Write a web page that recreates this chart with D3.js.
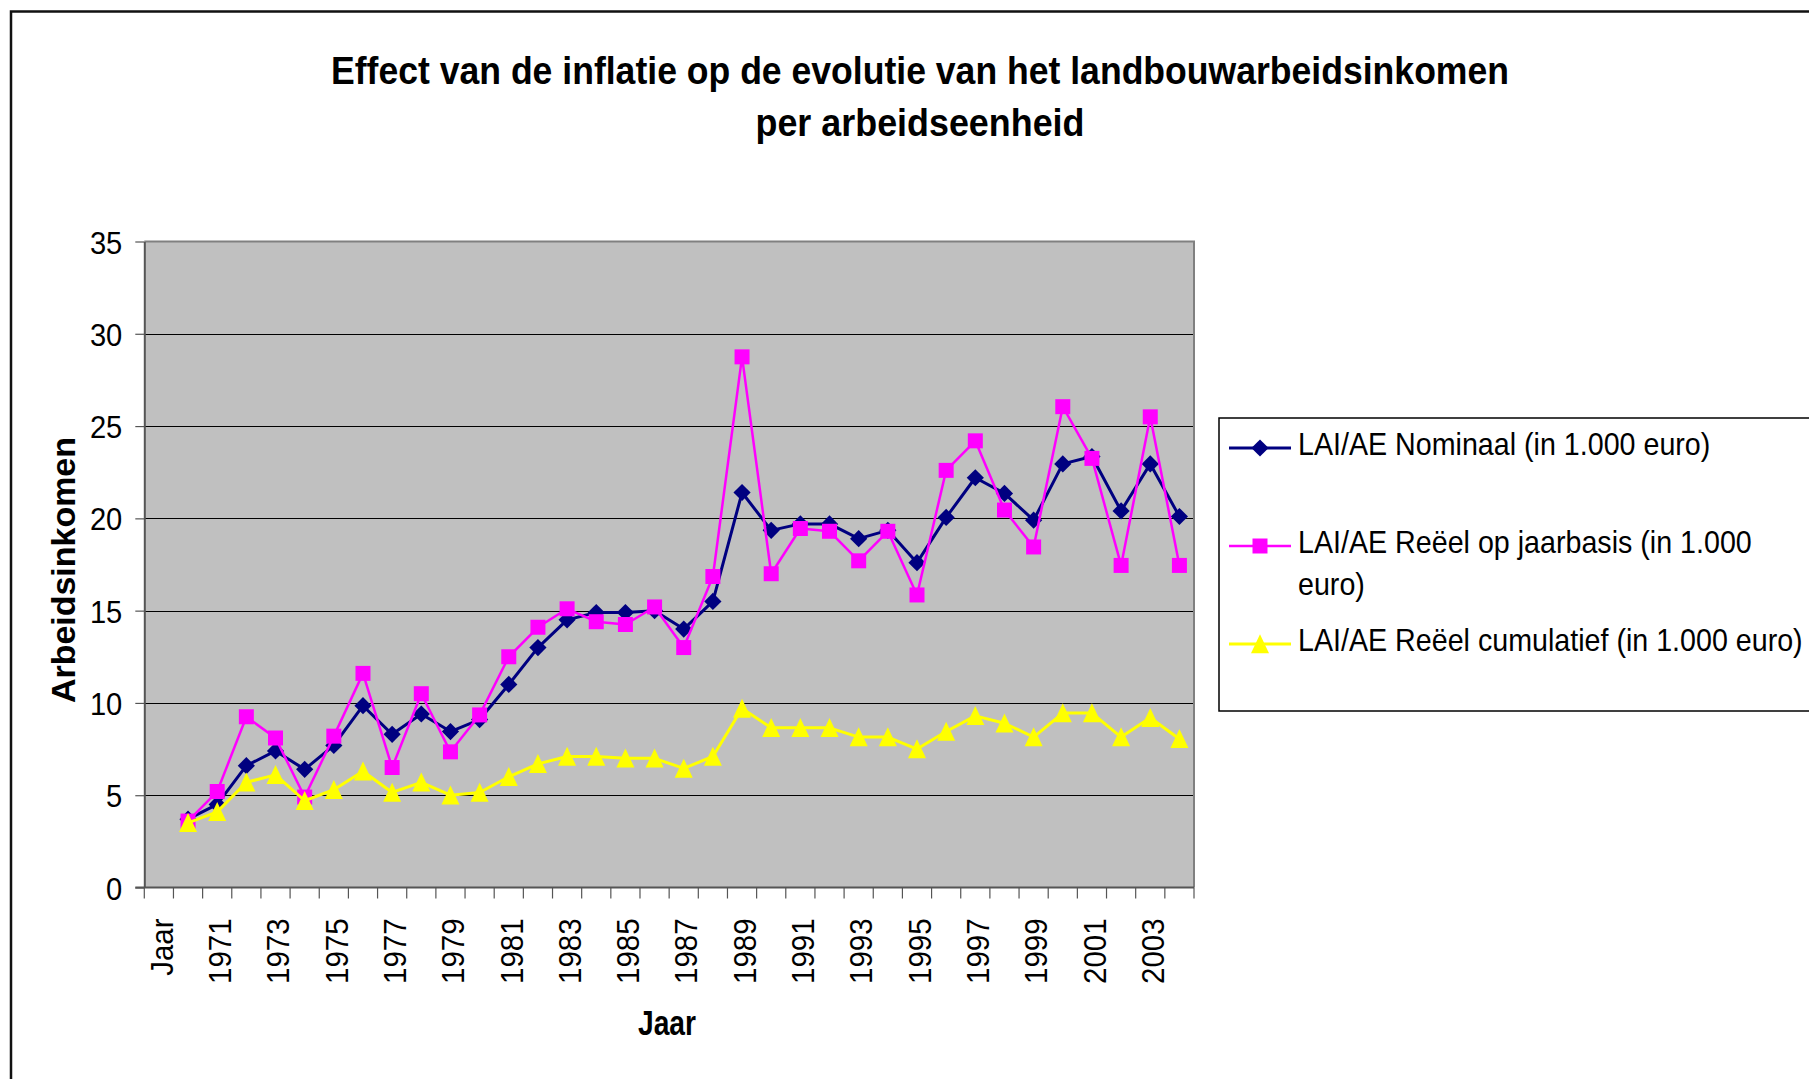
<!DOCTYPE html>
<html>
<head>
<meta charset="utf-8">
<script src="https://cdn.jsdelivr.net/npm/d3@7"></script>
<style>
  html, body { margin: 0; padding: 0; background: #fff; overflow: hidden; }
  svg { display: block; font-family: "Liberation Sans", Arial, sans-serif; }
</style>
</head>
<body>
<svg id="chart" width="1809" height="1079"></svg>
<script>
// categories on the x axis: first slot is the header cell "Jaar", then the years
const categories = ["Jaar", "1970", "1971", "1972", "1973", "1974", "1975", "1976", "1977", "1978", "1979",
  "1980", "1981", "1982", "1983", "1984", "1985", "1986", "1987", "1988", "1989",
  "1990", "1991", "1992", "1993", "1994", "1995", "1996", "1997", "1998", "1999",
  "2000", "2001", "2002", "2003", "2004"];
const years = categories.slice(1);

const nominaal = [3.7, 4.5, 6.6, 7.4, 6.4, 7.7, 9.85, 8.3, 9.4, 8.45, 9.1, 11.0, 13.0, 14.5, 14.9,
  14.9, 15.0, 14.0, 15.5, 21.4, 19.35, 19.7, 19.7, 18.9, 19.35, 17.6, 20.05, 22.2, 21.35, 19.9,
  22.95, 23.35, 20.4, 22.95, 20.1];
const reeelJaar = [3.6, 5.2, 9.25, 8.1, 4.9, 8.2, 11.6, 6.5, 10.5, 7.35, 9.35, 12.5, 14.1, 15.1, 14.4,
  14.25, 15.2, 13.0, 16.85, 28.75, 17.0, 19.45, 19.3, 17.7, 19.3, 15.85, 22.6, 24.2, 20.45, 18.45,
  26.05, 23.25, 17.45, 25.5, 17.45];
const reeelCum = [3.5, 4.1, 5.7, 6.1, 4.7, 5.3, 6.3, 5.15, 5.7, 5.0, 5.15, 6.0, 6.7, 7.1, 7.1,
  7.0, 7.0, 6.45, 7.1, 9.7, 8.65, 8.65, 8.65, 8.15, 8.15, 7.5, 8.45, 9.3, 8.9, 8.15,
  9.45, 9.45, 8.15, 9.2, 8.05];
const yTicks = [0, 5, 10, 15, 20, 25, 30, 35];

const seriesNames = ["LAI/AE Nominaal (in 1.000 euro)", "LAI/AE Reëel op jaarbasis (in 1.000 euro)", "LAI/AE Reëel cumulatief (in 1.000 euro)"];
const titleLines = ["Effect van de inflatie op de evolutie van het landbouwarbeidsinkomen", "per arbeidseenheid"];

const svg = d3.select("#chart");

// layout
const plotLeft = 144.3, plotRight = 1194, plotTop = 241.5, plotBottom = 887.5;

const x = d3.scaleBand().domain(categories).range([plotLeft, plotRight]).padding(0);
const y = d3.scaleLinear().domain([0, 35]).range([plotBottom, plotTop]);
const cx = d => x(d) + x.bandwidth() / 2;

// squeeze text a bit horizontally, like the original narrow rendering
function condense(sel, factor) {
  sel.each(function () {
    const w = this.getComputedTextLength();
    if (w > 0) {
      d3.select(this).attr("textLength", w * factor).attr("lengthAdjust", "spacingAndGlyphs");
    }
  });
}

// outer frame (runs off the right and bottom of the picture)
svg.append("rect")
  .attr("x", 11).attr("y", 11.5)
  .attr("width", 2000).attr("height", 1200)
  .attr("fill", "none").attr("stroke", "#111").attr("stroke-width", 2.5);

// title
svg.selectAll("text.title")
  .data(titleLines)
  .join("text")
  .attr("class", "title")
  .attr("x", 920)
  .attr("y", (d, i) => 84 + i * 52)
  .attr("text-anchor", "middle")
  .attr("font-size", 38.5)
  .attr("font-weight", "bold")
  .attr("fill", "#000")
  .text(d => d)
  .attr("textLength", (d, i) => i === 0 ? 1178 : 329)
  .attr("lengthAdjust", "spacingAndGlyphs");

// plot background
svg.append("rect")
  .attr("x", plotLeft).attr("y", plotTop)
  .attr("width", plotRight - plotLeft).attr("height", plotBottom - plotTop)
  .attr("fill", "#c0c0c0");

// gridlines
svg.append("g")
  .selectAll("line")
  .data(yTicks.filter(t => t > 0 && t < 35))
  .join("line")
  .attr("x1", plotLeft).attr("x2", plotRight)
  .attr("y1", d => Math.round(y(d)) + 0.5).attr("y2", d => Math.round(y(d)) + 0.5)
  .attr("stroke", "#000").attr("stroke-width", 1);

// plot frame top + right
svg.append("path")
  .attr("d", `M${plotLeft},${plotTop}H${plotRight}V${plotBottom}`)
  .attr("fill", "none").attr("stroke", "#808080").attr("stroke-width", 2);

// y axis
const yAxis = svg.append("g")
  .attr("transform", `translate(${plotLeft},0)`)
  .call(d3.axisLeft(y).tickValues(yTicks).tickSize(9).tickPadding(13).tickSizeOuter(0));
yAxis.select(".domain").attr("stroke", "#555").attr("stroke-width", 2);
yAxis.selectAll(".tick line").attr("stroke", "#555").attr("stroke-width", 1.2);
yAxis.selectAll(".tick text")
  .attr("font-size", 32).attr("font-family", "Liberation Sans, Arial, sans-serif")
  .attr("fill", "#000").attr("dy", "0.36em")
  .call(condense, 0.91);

// x axis: labels every other category, ticks on category boundaries
const xAxis = svg.append("g")
  .attr("transform", `translate(0,${plotBottom})`)
  .call(d3.axisBottom(x).tickSize(0).tickSizeOuter(0)
    .tickFormat((d, i) => i % 2 === 0 ? d : ""));
xAxis.select(".domain").attr("stroke", "#555").attr("stroke-width", 2)
  .attr("d", `M${plotLeft - 9},0H${plotRight}`);
xAxis.selectAll(".tick text")
  .attr("font-size", 32).attr("font-family", "Liberation Sans, Arial, sans-serif")
  .attr("fill", "#000")
  .attr("transform", "rotate(-90)")
  .attr("text-anchor", "end")
  .attr("x", -31).attr("y", 0).attr("dy", "0.43em")
  .call(condense, 0.92);

svg.append("g")
  .selectAll("line")
  .data(categories.concat(["end"]))
  .join("line")
  .attr("x1", (d, i) => i < categories.length ? x(d) : plotRight)
  .attr("x2", (d, i) => i < categories.length ? x(d) : plotRight)
  .attr("y1", plotBottom).attr("y2", plotBottom + 11)
  .attr("stroke", "#555").attr("stroke-width", 1.2);

// axis titles
svg.append("text")
  .attr("x", 667).attr("y", 1035)
  .attr("text-anchor", "middle")
  .attr("font-size", 35).attr("font-weight", "bold")
  .text("Jaar")
  .attr("textLength", 58).attr("lengthAdjust", "spacingAndGlyphs");

svg.append("text")
  .attr("transform", "translate(75,570) rotate(-90)")
  .attr("text-anchor", "middle")
  .attr("font-size", 34).attr("font-weight", "bold")
  .text("Arbeidsinkomen")
  .attr("textLength", 266).attr("lengthAdjust", "spacing");

// marker shapes, centered on their bounding box
const markerPath = {
  diamond: "M0,-8.6L8.6,0L0,8.6L-8.6,0Z",
  square: "M-7.5,-7.5H7.5V7.5H-7.5Z",
  triangle: "M0,-9.8L9,9.2H-9Z"
};

const series = [
  { name: seriesNames[0], values: nominaal, color: "#000080", width: 3, marker: "diamond" },
  { name: seriesNames[1], values: reeelJaar, color: "#ff00ff", width: 2.5, marker: "square" },
  { name: seriesNames[2], values: reeelCum, color: "#ffff00", width: 3, marker: "triangle" }
];

const line = d3.line()
  .x(d => cx(d.year))
  .y(d => y(d.value));

series.forEach(s => {
  const pts = years.map((yr, i) => ({ year: yr, value: s.values[i] }));
  const g = svg.append("g");
  g.append("path")
    .datum(pts)
    .attr("d", line)
    .attr("fill", "none")
    .attr("stroke", s.color)
    .attr("stroke-width", s.width)
    .attr("stroke-linejoin", "round");
  g.selectAll("path.mark")
    .data(pts)
    .join("path")
    .attr("class", "mark")
    .attr("transform", d => `translate(${cx(d.year)},${y(d.value)})`)
    .attr("d", markerPath[s.marker])
    .attr("fill", s.color);
});

// legend (box runs past the right edge, as in the original)
const legend = svg.append("g");
legend.append("rect")
  .attr("x", 1219).attr("y", 418)
  .attr("width", 700).attr("height", 293)
  .attr("fill", "#fff").attr("stroke", "#000").attr("stroke-width", 1.5);

const legendRows = [
  { s: series[0], y: 448, lines: ["LAI/AE Nominaal (in 1.000 euro)"] },
  { s: series[1], y: 546, lines: ["LAI/AE Reëel op jaarbasis (in 1.000", "euro)"] },
  { s: series[2], y: 644, lines: ["LAI/AE Reëel cumulatief (in 1.000 euro)"] }
];

legendRows.forEach(r => {
  legend.append("line")
    .attr("x1", 1229).attr("x2", 1291)
    .attr("y1", r.y).attr("y2", r.y)
    .attr("stroke", r.s.color).attr("stroke-width", r.s.width);
  legend.append("path")
    .attr("transform", `translate(1260,${r.y})`)
    .attr("d", markerPath[r.s.marker])
    .attr("fill", r.s.color);
  legend.selectAll(null)
    .data(r.lines)
    .join("text")
    .attr("x", 1298)
    .attr("y", (d, i) => r.y + 7 + i * 42)
    .attr("font-size", 32)
    .attr("fill", "#000")
    .text(d => d)
    .call(condense, 0.895);
});
</script>
</body>
</html>
